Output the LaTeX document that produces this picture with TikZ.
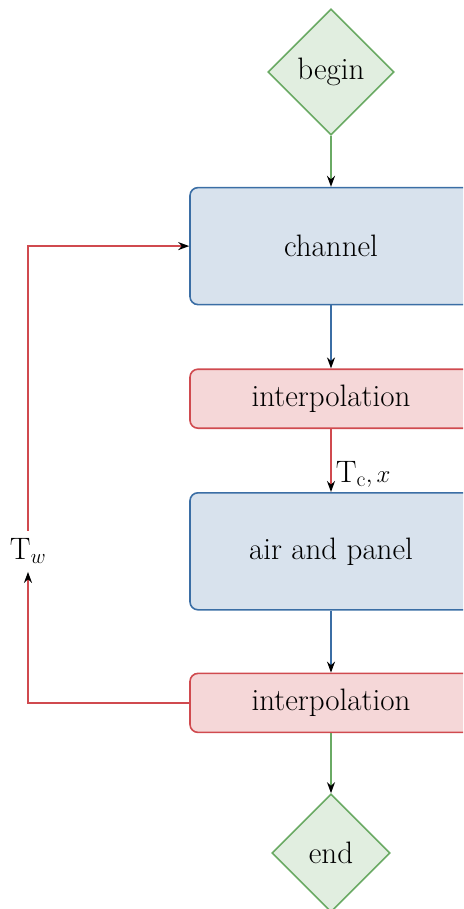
\documentclass[tikz,border=0pt]{standalone}
\usepackage{fontspec}
\usepackage{amsmath}
\usepackage{tikz}
\usetikzlibrary{arrows.meta,positioning,shapes.geometric}
\definecolor{clTerm}{HTML}{6AAA64}
\definecolor{clSolve}{HTML}{3B6EA5}
\definecolor{clInterp}{HTML}{D04A4F}
\tikzset{
  box/.style={rectangle, rounded corners=8pt, draw, line width=1.6pt, align=center,
              minimum width=282pt, font=\fontsize{31}{37}\selectfont},
  solver/.style={box, draw=clSolve, fill=clSolve!20, minimum height=117pt},
  interp/.style={box, draw=clInterp, fill=clInterp!22, minimum height=59pt},
  terminal/.style={diamond, aspect=1, draw=clTerm, fill=clTerm!20, line width=1.6pt,
                   inner sep=7pt, minimum size=118pt, font=\fontsize{31}{37}\selectfont},
  flow/.style={line width=1.6pt, -{Stealth[length=11pt,width=8pt,black]}},
  flowlabel/.style={font=\fontsize{31}{37}\selectfont, inner sep=4pt},
}

\begin{document}
\begin{tikzpicture}
  \useasboundingbox (-331pt,72pt) rectangle (132pt,-837pt);
  \clip (-331pt,72pt) rectangle (132pt,-837pt);
  \node[terminal, minimum size=126pt] (begin) at (0,0) {begin};
  \node[solver, below=51pt of begin] (channel) {channel};
  \node[interp, below=63pt of channel] (interpA) {interpolation};
  \node[solver, below=63pt of interpA] (air) {air and panel};
  \node[interp, below=62pt of air] (interpB) {interpolation};
  \node[terminal, below=60pt of interpB] (end) {end};
  \node[flowlabel, inner sep=8pt] (tw) at ([xshift=-303pt]air.center) {$\mathrm{T}_w$};
  \draw[flow, draw=clTerm] (begin) -- (channel);
  \draw[flow, draw=clSolve] (channel) -- (interpA);
  \draw[flow, draw=clInterp] (interpA) -- node[flowlabel, pos=1, anchor=south west] {$\mathrm{T}_\mathrm{c}, x$} (air);
  \draw[flow, draw=clSolve] (air) -- (interpB);
  \draw[flow, draw=clTerm] (interpB) -- (end);
  \draw[flow, draw=clInterp] (interpB.west) -| (tw.south);
  \draw[flow, draw=clInterp] (tw.north) |- (channel.west);
\end{tikzpicture}
\end{document}
